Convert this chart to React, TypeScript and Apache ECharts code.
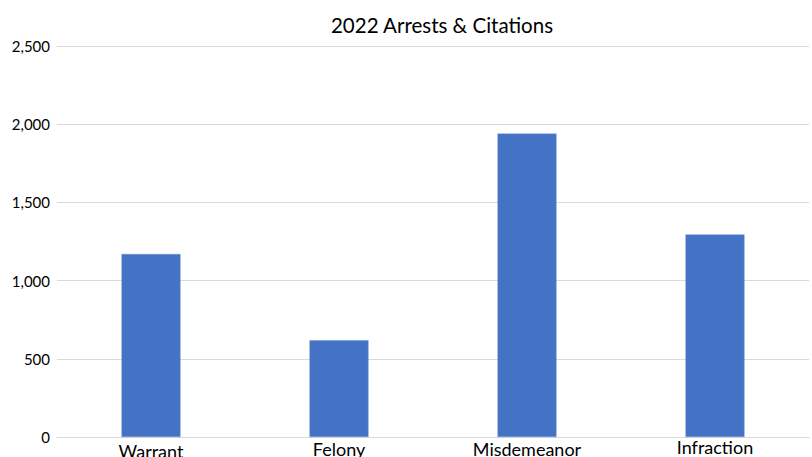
import React, { useEffect, useRef } from "react";
import * as echarts from "echarts";

const categories = ["Warrant", "Felony", "Misdemeanor", "Infraction"];
const values = [1170, 618, 1940, 1295];
const yMin = 0;
const yMax = 2500;
const yInterval = 500;
const titleText = "2022 Arrests & Citations";

export default function App() {
  const ref = useRef<HTMLDivElement>(null);
  useEffect(() => {
    document.body.style.margin = "0";
    const chart = echarts.init(ref.current!, null, { renderer: "svg" });
    const labelOffsets = [5, 3, 3, 1];
    chart.setOption({
      animation: false,
      backgroundColor: "#ffffff",
      textStyle: { fontFamily: "Lato" },
      title: {
        text: titleText,
        left: 437,
        textAlign: "center",
        top: 9,
        textStyle: { fontFamily: "Lato", fontSize: 20.5, fontWeight: "normal", color: "#000000" },
      },
      grid: {
        left: 57,
        right: 3,
        top: 46,
        bottom: 20,
        containLabel: false,
        outerBoundsMode: "none",
      },
      xAxis: {
        type: "category",
        data: categories.map((c, i) => ({
          value: c,
          textStyle: { padding: [labelOffsets[i], 0, 0, 0] },
        })),
        axisLine: { show: true, lineStyle: { color: "#d9d9d9", width: 1 } },
        axisTick: { show: false },
        axisLabel: { color: "#000000", fontSize: 18, fontFamily: "Lato", margin: 0 },
      },
      yAxis: {
        type: "value",
        min: yMin,
        max: yMax,
        interval: yInterval,
        axisLine: { show: false },
        axisTick: { show: false },
        splitLine: { lineStyle: { color: "#d9d9d9", width: 1 } },
        axisLabel: {
          color: "#000000",
          fontSize: 15,
          fontFamily: "Lato",
          margin: 7,
          formatter: (v: number) => v.toLocaleString("en-US"),
        },
      },
      series: [
        {
          type: "bar",
          data: values,
          barWidth: 59,
          itemStyle: { color: "#4472C4", borderColor: "#6f93d4", borderWidth: 0.5 },
        },
      ],
    });
    return () => chart.dispose();
  }, []);
  return <div ref={ref} style={{ width: 812, height: 457 }} />;
}
